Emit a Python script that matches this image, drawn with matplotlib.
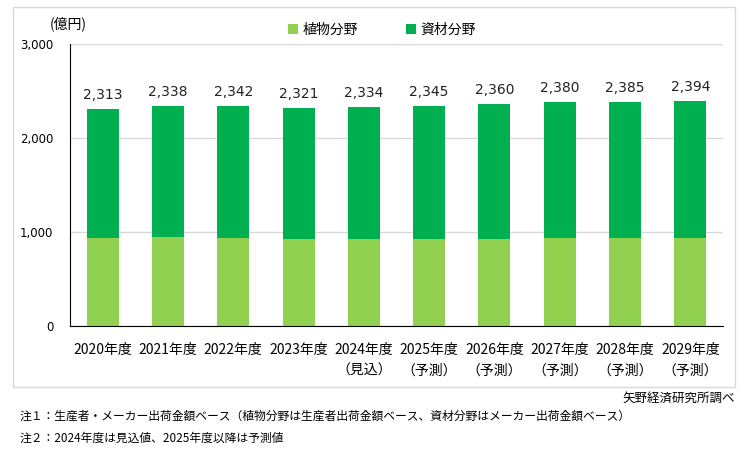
import matplotlib
matplotlib.use("Agg")
import matplotlib.pyplot as plt
from matplotlib.patches import Rectangle

plt.rcParams["font.family"] = ["Noto Sans CJK JP", "DejaVu Sans"]

years = ["2020年度", "2021年度", "2022年度", "2023年度", "2024年度",
         "2025年度", "2026年度", "2027年度", "2028年度", "2029年度"]
notes = ["", "", "", "", "（見込）", "（予測）", "（予測）", "（予測）", "（予測）", "（予測）"]
totals = [2313, 2338, 2342, 2321, 2334, 2345, 2360, 2380, 2385, 2394]
plant = [937, 948, 937, 924, 924, 924, 924, 935, 935, 935]
materials = [t - p for t, p in zip(totals, plant)]

PLANT_COLOR = "#92D050"
MATERIAL_COLOR = "#00B050"

W, H = 747, 467
fig = plt.figure(figsize=(W / 100, H / 100), dpi=100)

# outer chart frame
fig.patches.append(Rectangle((13 / W, 1 - 387 / H), (735 - 13) / W, (387 - 7) / H,
                             transform=fig.transFigure, fill=False,
                             edgecolor="#D9D9D9", linewidth=1))

ax = fig.add_axes([70 / W, 1 - 326 / H, (723 - 70) / W, (326 - 44) / H])

x = list(range(len(years)))
ax.bar(x, plant, width=0.49, color=PLANT_COLOR, label="植物分野", zorder=2)
ax.bar(x, materials, width=0.49, bottom=plant, color=MATERIAL_COLOR, label="資材分野", zorder=2)

for xi, t in zip(x, totals):
    ax.text(xi, t + 75, f"{t:,}", ha="center", va="bottom", fontsize=10,
            family="DejaVu Sans", color="#222222")

ax.set_xlim(-0.5, len(years) - 0.5)
ax.set_ylim(0, 3000)
ax.set_yticks([0, 1000, 2000, 3000])
ax.set_yticklabels([f"{v:,}" for v in [0, 1000, 2000, 3000]], fontsize=8.5, family="DejaVu Sans")
ax.grid(axis="y", color="#D9D9D9", linewidth=1, zorder=0)
ax.set_xticks(x)
ax.set_xticklabels([y + ("\n" + n if n else "") for y, n in zip(years, notes)],
                   fontsize=10, va="top", linespacing=1.6)
ax.tick_params(axis="both", length=0)
ax.tick_params(axis="y", pad=12)
ax.tick_params(axis="x", pad=12)

for side in ["top", "right"]:
    ax.spines[side].set_visible(False)
ax.spines["left"].set_color("black")
ax.spines["bottom"].set_color("black")

fig.text(68 / W, 1 - 24 / H, "(億円)", ha="center", va="center", fontsize=10)

ax.legend(loc="center", bbox_to_anchor=(382 / W, 1 - 30 / H), bbox_transform=fig.transFigure,
          ncol=2, frameon=False, fontsize=10, handlelength=0.7, handleheight=0.7,
          handletextpad=0.3, columnspacing=3.5)

fig.text(735 / W, 1 - 398 / H, "矢野経済研究所調べ", ha="right", va="center", fontsize=9)
fig.text(20 / W, 1 - 416 / H,
         "注１：生産者・メーカー出荷金額ベース（植物分野は生産者出荷金額ベース、資材分野はメーカー出荷金額ベース）",
         ha="left", va="center", fontsize=8.5)
fig.text(20 / W, 1 - 438 / H, "注２：2024年度は見込値、2025年度以降は予測値",
         ha="left", va="center", fontsize=8.5)

fig.savefig("out.png", dpi=100)
